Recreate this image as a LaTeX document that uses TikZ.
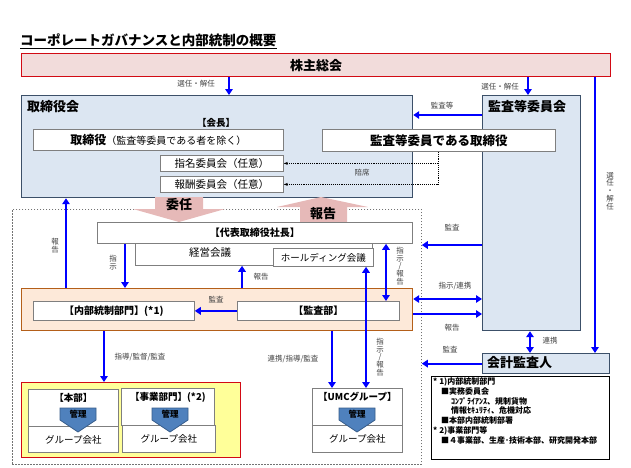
\documentclass[tikz,border=0pt]{standalone}
\usepackage{fontspec}
\setmainfont{Noto Sans CJK JP}
\usetikzlibrary{arrows.meta,positioning}

\definecolor{shpink}{RGB}{242,220,219}
\definecolor{shred}{RGB}{210,10,20}
\definecolor{bdfill}{RGB}{220,230,242}
\definecolor{bdline}{RGB}{60,80,105}
\definecolor{orfill}{RGB}{253,233,217}
\definecolor{orline}{RGB}{180,95,25}
\definecolor{yefill}{RGB}{255,255,153}
\definecolor{pkarrow}{RGB}{230,185,184}
\definecolor{kanri}{RGB}{79,129,189}
\definecolor{kanriline}{RGB}{56,93,138}
\definecolor{boxline}{RGB}{127,127,127}

\tikzset{
  sz/.style 2 args={minimum width=#1pt,minimum height=#2pt},
  blk/.style={draw=bdline,fill=bdfill,line width=1.2pt,inner sep=0pt,anchor=north west},
  wbox/.style={draw=boxline,fill=white,line width=0.8pt,inner sep=0pt,anchor=north west},
  barrow/.style={draw=blue,line width=2.2pt,-{Triangle[width=7.5pt,length=6pt]}},
  bboth/.style={barrow,{Triangle[width=7.5pt,length=6pt]}-{Triangle[width=7.5pt,length=6pt]}},
  lbl/.style={font=\fontsize{7.5}{8}\selectfont,text=black!75,inner sep=1pt},
  vlbl/.style={lbl,align=center,font=\fontsize{7.5}{7.8}\selectfont},
  dotarrow/.style={densely dotted,line width=0.9pt,-{Stealth[length=4pt]}},
}

\begin{document}
\begin{tikzpicture}[x=1pt,y=-1pt]
\useasboundingbox (0,0) rectangle (631,467);

% columns and rows of the connectors
\coordinate (xa) at (229,0);
\coordinate (xb) at (528,0);
\coordinate (xc) at (595,0);
\coordinate (xr) at (66,0);
\coordinate (xs) at (125,0);
\coordinate (xt) at (242,0);
\coordinate (xu) at (386,0);
\coordinate (xv) at (366,0);
\coordinate (xw) at (332,0);
\coordinate (xz) at (104,0);
\coordinate (xk) at (530,0);
\coordinate (seat) at (438,0);
\coordinate (ya) at (0,115);
\coordinate (yb) at (0,245);
\coordinate (yc) at (0,299);
\coordinate (yd) at (0,314);

% title
\node[anchor=west,inner sep=0pt,font=\fontsize{13.5}{14}\selectfont\bfseries] (title) at (20,40) {コーポレートガバナンスと内部統制の概要};
\draw[line width=1.2pt] ([yshift=-1.5pt]title.south west) -- ([yshift=-1.5pt]title.south east);

% shareholders
\node[draw=shred,fill=shpink,line width=1.2pt,anchor=north west,sz={589}{23},font=\fontsize{13}{14}\selectfont\bfseries] (meeting) at (21,53) {株主総会};

% board and audit committee
\node[blk,sz={391}{102}] (board) at (21,95) {};
\node[anchor=west,inner sep=0pt,font=\fontsize{13}{14}\selectfont\bfseries] (boardt) at (27,107) {取締役会};
\node[blk,sz={98}{235}] (audit) at (482,95) {};
\node[anchor=west,inner sep=0pt,font=\fontsize{13}{14}\selectfont\bfseries] (auditt) at (488,107) {監査等委員会};

\node[font=\fontsize{9.5}{10}\selectfont\bfseries] (chair) at (216,123) {【会長】};
\node[wbox,sz={250}{21}] (dirs) at (33,129) {{\fontsize{12}{13}\selectfont\bfseries 取締役}{\fontsize{10}{12}\selectfont（監査等委員である者を除く）}};
\node[wbox,sz={233}{22},font=\fontsize{12.5}{13}\selectfont\bfseries] (adirs) at (322,129) {監査等委員である取締役};
\node[wbox,sz={123}{16},font=\fontsize{10.5}{11}\selectfont] (nomi) at (160,155) {指名委員会（任意）};
\node[wbox,sz={123}{16},font=\fontsize{10.5}{11}\selectfont] (remu) at (160,176) {報酬委員会（任意）};

\draw[dotarrow] (adirs.south -| seat) |- (remu.east);
\draw[dotarrow] (nomi.east -| seat) -- (nomi.east);
\node[lbl] (seatl) at (362,173) {陪席};

% dotted executive area
\node[draw=black!55,dash pattern=on 1.5pt off 1.5pt,line width=0.8pt,anchor=north west,sz={409}{255},inner sep=0pt] (group) at (12,209) {};

% delegation / report
\fill[pkarrow] (155,197) -- (203,197) -- (203,209) -- (225,209) -- (179,222) -- (133,209) -- (155,209) -- cycle;
\node[font=\fontsize{13}{14}\selectfont\bfseries] (delegl) at (179,205) {委任};
\fill[pkarrow] (321,197) -- (368,207) -- (347,207) -- (347,222) -- (300,222) -- (300,207) -- (277,207) -- cycle;
\node[font=\fontsize{13}{14}\selectfont\bfseries] (reportl) at (323,214) {報告};

% president and meetings
\node[wbox,sz={237}{22}] (mgmt) at (135,243) {};
\node[font=\fontsize{10.5}{11}\selectfont] (mgmtt) at (210,253) {経営会議};
\node[wbox,sz={315}{21},font=\fontsize{10}{11}\selectfont\bfseries] (pres) at (97,222) {【代表取締役社長】};
\node[wbox,sz={100}{18},font=\fontsize{9.5}{10}\selectfont] (hold) at (273,248) {ホールディング会議};

% internal control block
\node[draw=orline,fill=orfill,line width=1.2pt,anchor=north west,sz={391}{42},inner sep=0pt] (ctrl) at (21,288) {};
\node[wbox,sz={161}{19},font=\fontsize{10}{11}\selectfont\bfseries] (icd) at (33,301) {【内部統制部門】(*1)};
\node[wbox,sz={162}{19},font=\fontsize{10}{11}\selectfont\bfseries] (iad) at (237,301) {【監査部】};

% group companies
\node[draw=shred,fill=yefill,line width=1.2pt,anchor=north west,sz={219}{75},inner sep=0pt] (grp) at (21,382) {};
\node[wbox,sz={90}{37}] (hq) at (28,389) {};
\node[wbox,sz={90}{26},font=\fontsize{9.5}{10}\selectfont] (hqc) at (28,426) {グループ会社};
\node[wbox,sz={93}{37}] (biz) at (121,388) {};
\node[wbox,sz={93}{27},font=\fontsize{9.5}{10}\selectfont] (bizc) at (122,425) {グループ会社};
\node[wbox,sz={90}{37}] (umc) at (312,388) {};
\node[wbox,sz={90}{27},font=\fontsize{9.5}{10}\selectfont] (umcc) at (312,425) {グループ会社};
\node[below=3pt of hq.north,inner sep=1pt,font=\fontsize{9.5}{10}\selectfont\bfseries] (hqt) {【本部】};
\node[below=3pt of biz.north,inner sep=1pt,font=\fontsize{9.5}{10}\selectfont\bfseries] (bizt) {【事業部門】(*2)};
\node[below=3pt of umc.north,inner sep=1pt,font=\fontsize{9.5}{10}\selectfont\bfseries] (umct) {【UMCグループ】};
\foreach \cx/\nm in {78/kh,170/kb,357/ku}{
  \draw[fill=kanri,draw=kanriline,line width=0.8pt] ({\cx-18},408) -- ({\cx+18},408) -- ({\cx+18},420) -- (\cx,432) -- ({\cx-18},420) -- cycle;
  \node[font=\fontsize{8.5}{9}\selectfont\bfseries] (\nm) at (\cx,414) {管理};
}

% accounting auditor and notes
\node[blk,sz={127}{20}] (acct) at (482,353) {};
\node[anchor=west,inner sep=0pt,font=\fontsize{13}{14}\selectfont\bfseries] (acctt) at (487,363) {会計監査人};
\node[draw=black,line width=1.2pt,anchor=north west,sz={178}{83},inner sep=0pt] (notes) at (431,376) {};
\node[anchor=north west,inner sep=0pt,align=left,font=\fontsize{8}{9.8}\selectfont\bfseries] (notest) at (433,377.5) {%
* 1)内部統制部門\\
\hspace*{8pt}■実務委員会\\
\hspace*{18pt}ｺﾝﾌﾟﾗｲｱﾝｽ、規制貨物\\
\hspace*{18pt}情報ｾｷｭﾘﾃｨ、危機対応\\
\hspace*{8pt}■本部内部統制部署\\
* 2)事業部門等\\
\hspace*{8pt}■４事業部、生産･技術本部、研究開発本部};

% connectors
\draw[barrow] (meeting.south -| xa) -- (board.north -| xa);
\node[lbl] (sel1) at (196,84) {選任・解任};
\draw[barrow] (meeting.south -| xb) -- (audit.north -| xb);
\node[lbl] (sel2) at (500,87) {選任・解任};
\draw[barrow] (meeting.south -| xc) -- (acct.north -| xc);
\node[vlbl] (sel3) at (610,191) {選\\任\\・\\解\\任};
\draw[barrow] (audit.west |- ya) -- (board.east |- ya);
\node[lbl] (aud1) at (442,106) {監査等};

\draw[barrow] (ctrl.north -| xr) -- (board.south -| xr);
\node[vlbl] (rep1) at (55,246) {報\\告};
\draw[barrow] (pres.south -| xs) -- (ctrl.north -| xs);
\node[vlbl] (ins1) at (113,263) {指\\示};
\draw[barrow] (ctrl.north -| xt) -- (mgmt.south -| xt);
\node[lbl] (rep2) at (261,277) {報告};
\draw[bboth] (pres.south -| xu) -- (iad.north -| xu);
\node[vlbl] (ins2) at (400,266) {指\\示\\/\\報\\告};
\draw[barrow] (iad.west) -- (icd.east);
\node[lbl] (aud2) at (216,300) {監査};

\draw[barrow] (audit.west |- yb) -- (group.east |- yb);
\node[lbl] (aud3) at (452,228) {監査};
\draw[bboth] (ctrl.east |- yc) -- (audit.west |- yc);
\node[lbl] (coop1) at (455,286) {指示/連携};
\draw[barrow] (ctrl.east |- yd) -- (audit.west |- yd);
\node[lbl] (rep3) at (452,328) {報告};
\draw[bboth] (audit.south -| xk) -- (acct.north -| xk);
\node[lbl] (coop2) at (550,341) {連携};
\draw[barrow] (acct.west) -- (group.east |- acct.west);
\node[lbl] (aud4) at (450,350) {監査};

\draw[barrow] (ctrl.south -| xz) -- (grp.north -| xz);
\node[lbl] (guide1) at (140,357) {指導/監督/監査};
\draw[barrow] (ctrl.south -| xw) -- (umc.north -| xw);
\node[lbl] (guide2) at (293,359) {連携/指導/監査};
\draw[bboth] (hold.south -| xv) -- (umc.north -| xv);
\node[vlbl] (ins3) at (380,357) {指\\示\\/\\報\\告};
\end{tikzpicture}
\end{document}
